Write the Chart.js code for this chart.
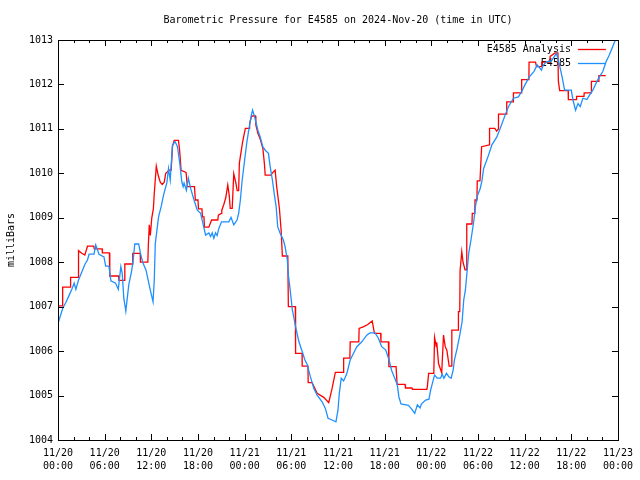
<!DOCTYPE html>
<html><head><meta charset="utf-8">
<script src="https://cdn.jsdelivr.net/npm/chart.js@4.4.1/dist/chart.umd.min.js"></script>
<style>html,body{margin:0;padding:0;background:#fff}</style>
</head><body>
<canvas id="c" width="640" height="480"></canvas>
<script>
const chartTitle = 'Barometric Pressure for E4585 on 2024-Nov-20 (time in UTC)';
const yAxisTitle = 'milliBars';
const seriesNames = ['E4585 Analysis', 'E4585'];
const xTickDates = ['11/20','11/20','11/20','11/20','11/21','11/21','11/21','11/21','11/22','11/22','11/22','11/22','11/23'];
const xTickTimes = ['00:00','06:00','12:00','18:00','00:00','06:00','12:00','18:00','00:00','06:00','12:00','18:00','00:00'];

// hours since 2024-11-20 00:00 UTC
const analysisHours = [0.00,0.57,0.60,1.60,1.62,2.62,2.64,3.06,3.45,3.79,4.60,4.66,5.68,5.71,6.61,6.66,7.79,7.83,8.55,8.59,9.57,9.61,10.57,10.60,11.55,11.62,11.74,11.87,12.06,12.26,12.38,12.64,12.89,13.15,13.40,13.66,13.85,14.30,14.55,14.72,14.94,15.49,15.64,15.83,16.47,16.63,17.55,17.66,18.00,18.06,18.51,18.57,18.77,18.83,19.40,19.75,20.55,20.62,21.00,21.06,21.32,21.57,21.83,22.02,22.15,22.40,22.60,22.85,23.04,23.23,23.32,23.74,24.09,24.57,24.64,24.89,25.40,25.44,25.70,26.00,26.34,26.55,26.64,27.38,27.57,27.92,28.12,28.47,28.69,28.85,29.55,29.62,30.51,30.55,31.38,31.40,32.14,32.17,32.68,33.32,34.17,34.81,35.23,35.66,36.70,36.73,37.53,37.57,38.68,38.72,39.32,39.83,40.40,40.69,41.49,41.53,42.48,42.55,43.47,43.60,44.62,44.68,45.51,45.57,47.43,47.49,47.66,48.32,48.42,48.64,48.70,48.93,49.34,49.57,49.79,50.00,50.30,50.55,50.64,51.45,51.49,51.66,51.70,51.92,52.08,52.34,52.53,52.56,53.23,53.27,53.59,53.62,53.87,53.91,54.26,54.47,55.47,55.49,56.17,56.40,56.62,56.64,57.67,57.70,58.53,58.56,59.60,59.62,60.55,60.57,61.40,61.53,62.17,62.21,63.25,63.28,63.92,64.28,64.34,64.51,65.60,65.62,66.64,66.68,67.63,67.66,68.55,68.59,69.53,69.55,70.43];
const analysisPressure = [1007.02,1007.02,1007.44,1007.44,1007.66,1007.66,1008.26,1008.20,1008.16,1008.36,1008.36,1008.30,1008.30,1008.21,1008.21,1007.69,1007.69,1007.59,1007.59,1007.96,1007.96,1008.20,1008.20,1008.00,1008.00,1008.40,1008.84,1008.60,1009.00,1009.20,1009.55,1010.16,1009.95,1009.80,1009.75,1009.80,1010.00,1010.07,1010.07,1010.60,1010.74,1010.74,1010.52,1010.07,1010.02,1009.70,1009.70,1009.40,1009.40,1009.20,1009.20,1009.02,1009.02,1008.79,1008.79,1008.95,1008.95,1009.06,1009.10,1009.17,1009.30,1009.45,1009.74,1009.50,1009.21,1009.21,1009.99,1009.80,1009.61,1009.61,1010.23,1010.71,1011.01,1011.01,1011.12,1011.29,1011.29,1011.09,1010.90,1010.77,1010.56,1010.20,1009.96,1009.96,1010.01,1010.07,1009.70,1009.21,1008.72,1008.14,1008.14,1007.00,1007.00,1005.95,1005.95,1005.66,1005.66,1005.29,1005.29,1005.05,1004.96,1004.84,1005.15,1005.52,1005.52,1005.84,1005.84,1006.21,1006.21,1006.51,1006.55,1006.60,1006.68,1006.40,1006.40,1006.21,1006.21,1005.65,1005.65,1005.25,1005.25,1005.17,1005.17,1005.14,1005.14,1005.20,1005.50,1005.50,1006.31,1006.10,1006.20,1005.72,1005.51,1006.36,1006.10,1006.02,1005.66,1005.66,1006.47,1006.47,1006.89,1006.89,1007.81,1008.24,1008.00,1007.83,1007.83,1008.86,1008.86,1009.10,1009.10,1009.40,1009.40,1009.83,1009.83,1010.60,1010.64,1011.01,1011.01,1010.95,1011.00,1011.33,1011.33,1011.61,1011.61,1011.81,1011.81,1012.11,1012.11,1012.50,1012.50,1012.40,1012.40,1012.50,1012.50,1012.63,1012.71,1012.71,1012.07,1011.86,1011.86,1011.66,1011.66,1011.73,1011.73,1011.81,1011.81,1012.07,1012.07,1012.20,1012.20];

const obsHours = [0.00,0.60,1.02,1.44,1.79,2.08,2.30,2.64,3.15,3.45,3.79,4.00,4.63,4.85,5.04,5.27,5.91,6.13,6.55,6.80,7.40,7.75,8.08,8.26,8.46,8.72,9.10,9.45,9.64,9.87,10.38,10.60,10.89,11.32,11.87,12.22,12.38,12.51,12.93,13.28,13.57,14.00,14.21,14.43,14.72,15.06,15.36,15.66,15.92,16.09,16.21,16.51,16.76,17.07,17.49,17.91,18.34,18.68,18.98,19.40,19.62,19.83,20.04,20.26,20.46,20.68,21.03,21.96,22.25,22.60,23.02,23.23,23.45,23.66,24.00,24.29,24.60,24.86,25.02,25.24,25.44,25.70,26.00,26.34,26.64,27.06,27.28,27.57,27.83,28.05,28.25,28.56,28.98,29.20,29.49,29.62,29.78,30.13,30.55,30.98,31.40,31.75,32.04,32.46,32.90,33.32,33.96,34.38,34.72,35.23,35.74,36.00,36.17,36.42,36.73,37.15,37.57,38.00,38.43,39.06,39.70,40.12,40.76,41.20,41.62,42.13,42.55,42.89,43.24,43.62,43.83,44.10,45.06,45.45,45.87,46.21,46.56,46.72,47.27,47.70,47.91,48.13,48.42,48.77,49.19,49.40,49.62,49.95,50.26,50.55,50.81,50.97,51.32,51.66,51.96,52.17,52.38,52.60,52.81,53.10,53.45,53.71,53.96,54.29,54.51,54.73,55.36,55.79,56.43,56.94,57.49,57.92,58.56,59.20,59.62,60.04,60.60,61.19,61.62,62.17,62.39,62.81,63.45,64.09,64.43,64.85,65.14,66.00,66.22,66.55,66.86,67.15,67.49,68.00,68.34,68.77,69.19,69.61,70.05,70.47,70.89,71.32,71.66,71.85];
const obsPressure = [1006.62,1006.96,1007.10,1007.26,1007.40,1007.53,1007.39,1007.60,1007.82,1007.95,1008.05,1008.18,1008.18,1008.39,1008.30,1008.18,1008.12,1007.91,1007.91,1007.58,1007.53,1007.39,1007.90,1007.75,1007.19,1006.90,1007.49,1007.79,1008.00,1008.41,1008.41,1008.20,1008.00,1007.82,1007.37,1007.11,1007.60,1008.42,1009.02,1009.26,1009.51,1009.79,1010.11,1009.85,1010.64,1010.71,1010.60,1010.23,1009.81,1009.70,1009.78,1009.62,1009.89,1009.65,1009.40,1009.17,1009.10,1008.84,1008.61,1008.66,1008.58,1008.66,1008.54,1008.66,1008.60,1008.76,1008.91,1008.91,1009.01,1008.84,1008.95,1009.10,1009.40,1009.81,1010.30,1010.71,1011.05,1011.31,1011.42,1011.30,1011.16,1010.97,1010.82,1010.60,1010.52,1010.45,1010.15,1009.85,1009.51,1009.25,1008.80,1008.65,1008.50,1008.35,1008.05,1007.71,1007.49,1006.93,1006.55,1006.21,1005.99,1005.80,1005.70,1005.42,1005.16,1005.01,1004.86,1004.71,1004.49,1004.45,1004.41,1004.67,1005.05,1005.39,1005.33,1005.50,1005.80,1005.95,1006.10,1006.21,1006.36,1006.41,1006.41,1006.29,1006.10,1006.03,1005.81,1005.57,1005.42,1005.25,1004.97,1004.81,1004.78,1004.70,1004.60,1004.79,1004.72,1004.81,1004.90,1004.92,1005.12,1005.27,1005.46,1005.39,1005.39,1005.48,1005.39,1005.50,1005.42,1005.39,1005.57,1005.80,1006.06,1006.36,1006.66,1007.15,1007.37,1007.79,1008.20,1008.50,1008.91,1009.29,1009.51,1009.66,1009.83,1010.11,1010.41,1010.64,1010.82,1011.05,1011.31,1011.50,1011.69,1011.72,1011.84,1011.99,1012.17,1012.29,1012.44,1012.32,1012.43,1012.51,1012.53,1012.70,1012.48,1012.14,1011.87,1011.87,1011.65,1011.42,1011.57,1011.50,1011.69,1011.66,1011.76,1011.87,1012.03,1012.17,1012.29,1012.51,1012.66,1012.85,1013.00,1013.00];

const MONO = '"DejaVu Sans Mono", "Liberation Mono", monospace';
const RED = '#ff0000';
const BLUE = '#1e90ff';

const decor = {
  id: 'decor',
  beforeDatasetsDraw(chart) {
    const ctx = chart.ctx;
    const a = chart.chartArea;
    ctx.save();
    ctx.font = '10px ' + MONO;
    ctx.fillStyle = '#000';
    ctx.textAlign = 'right';
    ctx.textBaseline = 'middle';
    const rows = [[seriesNames[0], RED, 49], [seriesNames[1], BLUE, 63]];
    rows.forEach(([txt, col, y]) => {
      ctx.fillText(txt, a.right - 47, y);
      ctx.strokeStyle = col;
      ctx.lineWidth = 1.3;
      ctx.beginPath();
      ctx.moveTo(a.right - 40, y + 0.5);
      ctx.lineTo(a.right - 12, y + 0.5);
      ctx.stroke();
    });
    ctx.restore();
  },
  afterDraw(chart) {
    const ctx = chart.ctx;
    const a = chart.chartArea;
    const xs = chart.scales.x, ys = chart.scales.y;
    ctx.save();
    ctx.strokeStyle = '#000';
    ctx.lineWidth = 1;
    ctx.beginPath();
    for (let h = 0; h <= 72; h += 2) {
      const px = Math.round(xs.getPixelForValue(h)) + 0.5;
      const len = (h % 6 === 0) ? 6 : 3;
      ctx.moveTo(px, a.bottom); ctx.lineTo(px, a.bottom - len);
      ctx.moveTo(px, a.top); ctx.lineTo(px, a.top + len);
    }
    for (let v = 1004; v <= 1013; v++) {
      const py = Math.round(ys.getPixelForValue(v)) + 0.5;
      ctx.moveTo(a.left, py); ctx.lineTo(a.left + 6, py);
      ctx.moveTo(a.right, py); ctx.lineTo(a.right - 6, py);
    }
    ctx.stroke();
    ctx.strokeRect(Math.round(a.left) + 0.5, Math.round(a.top) + 0.5, Math.round(a.right - a.left), Math.round(a.bottom - a.top));
    ctx.fillStyle = '#000';
    ctx.font = '10px ' + MONO;
    ctx.textAlign = 'center';
    ctx.textBaseline = 'middle';
    ctx.fillText(chartTitle, (a.left + a.right) / 2, 20);
    ctx.translate(11, 240);
    ctx.rotate(-Math.PI / 2);
    ctx.fillText(yAxisTitle, 0, 0);
    ctx.restore();
  }
};

new Chart(document.getElementById('c'), {
  type: 'line',
  data: {
    datasets: [
      {
        label: seriesNames[0],
        data: analysisHours.map((h, i) => ({ x: h, y: analysisPressure[i] })),
        borderColor: RED, borderWidth: 1.3, pointRadius: 0, tension: 0, fill: false, order: 1
      },
      {
        label: seriesNames[1],
        data: obsHours.map((h, i) => ({ x: h, y: obsPressure[i] })),
        borderColor: BLUE, borderWidth: 1.3, pointRadius: 0, tension: 0, fill: false, order: 0
      }
    ]
  },
  options: {
    responsive: false,
    animation: false,
    devicePixelRatio: 1,
    layout: { padding: { top: 40, right: 18, left: 0, bottom: 0 } },
    plugins: { legend: { display: false }, title: { display: false }, tooltip: { enabled: false } },
    scales: {
      x: {
        type: 'linear', min: 0, max: 72,
        grid: { display: false, drawTicks: false },
        border: { display: false },
        ticks: {
          stepSize: 6, autoSkip: false, maxRotation: 0, minRotation: 0, padding: 7,
          color: '#000', font: { family: MONO, size: 10, lineHeight: 1.3 },
          callback: (v) => { const i = Math.round(v / 6); return [xTickDates[i], xTickTimes[i]]; }
        },
        afterFit: (s) => { s.height = 40; }
      },
      y: {
        min: 1004, max: 1013,
        grid: { display: false, drawTicks: false },
        border: { display: false },
        ticks: {
          stepSize: 1, padding: 5, color: '#000', font: { family: MONO, size: 10 },
          callback: (v) => String(v)
        },
        afterFit: (s) => { s.width = 58; }
      }
    }
  },
  plugins: [decor]
});
</script>
</body></html>
